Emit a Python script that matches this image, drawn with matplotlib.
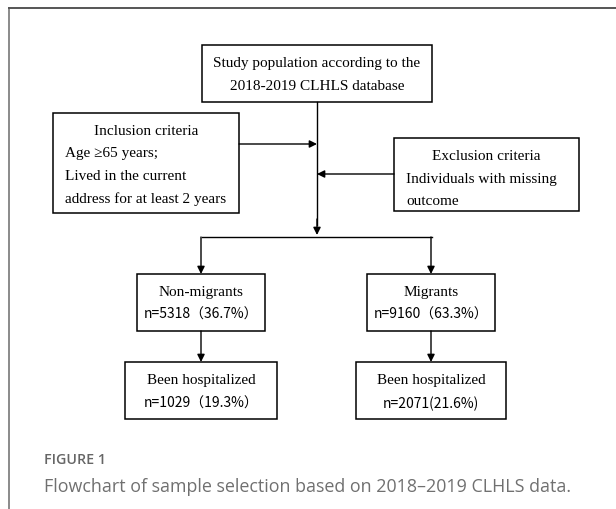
import matplotlib
matplotlib.use("Agg")
import matplotlib.pyplot as plt
from matplotlib.patches import Rectangle

# flowchart content
top_lines = ["Study population according to the", "2018-2019 CLHLS database"]
incl_title = "Inclusion criteria"
incl_lines = ["Age \u226565 years;", "Lived in the current", "address for at least 2 years"]
excl_title = "Exclusion criteria"
excl_lines = ["Individuals with missing", "outcome"]
groups = ["Non-migrants", "Migrants"]
group_n = [5318, 9160]
group_pct = [36.7, 63.3]
hosp_label = "Been hospitalized"
hosp_n = [1029, 2071]
hosp_pct = [19.3, 21.6]
# the source mixes full-width and ascii brackets
group_fmt = ["n={}\uff08{}%\uff09", "n={}\uff08{}%\uff09"]
hosp_fmt = ["n={}\uff08{}%\uff09", "n={}({}%)"]
fig_label = "FIGURE 1"
caption = "Flowchart of sample selection based on 2018\u20132019 CLHLS data."

W, H = 616, 510
fig = plt.figure(figsize=(W / 100, H / 100), dpi=100)
ax = fig.add_axes([0, 0, 1, 1])
ax.set_xlim(0, W)
ax.set_ylim(H, 0)
ax.axis("off")

serif = "Liberation Serif"
cjk = ["Noto Sans CJK SC", "DejaVu Sans"]
fs = 11
fs_n = 10
lw_box = 1.1
lw_line = 1.0

# outer frame (open on right / bottom)
ax.plot([9, 9], [9, H], color="#777777", lw=1.2)
ax.plot([9, W], [9, 9], color="#555555", lw=1.4)


def box(x0, y0, x1, y1):
    ax.add_patch(Rectangle((x0, y0), x1 - x0, y1 - y0, fill=False,
                           ec="black", lw=lw_box))


def arrow(x0, y0, x1, y1):
    ax.annotate("", xy=(x1, y1), xytext=(x0, y0),
                arrowprops=dict(arrowstyle="-|>", color="black", lw=lw_line,
                                mutation_scale=11, shrinkA=0, shrinkB=0))


# top box
box(202, 46, 432, 103)
for t, y in zip(top_lines, [63, 87]):
    ax.text(317, y, t, ha="center", va="center", fontsize=fs, family=serif)

# inclusion box
box(53, 114, 239, 214)
ax.text(146, 132, incl_title, ha="center", va="center", fontsize=fs, family=serif)
for t, y in zip(incl_lines, [154, 177, 199]):
    ax.text(65, y, t, ha="left", va="center", fontsize=fs, family=serif)

# exclusion box
box(394, 139, 579, 212)
ax.text(486, 157, excl_title, ha="center", va="center", fontsize=fs, family=serif)
for t, y in zip(excl_lines, [180, 202]):
    ax.text(406, y, t, ha="left", va="center", fontsize=fs, family=serif)

# stem + side arrows
ax.plot([317, 317], [103, 226], color="black", lw=lw_line)
arrow(317, 220, 317, 236)
arrow(239, 145, 317, 145)
arrow(394, 175, 317, 175)

# branch
ax.plot([202, 432], [238, 238], color="black", lw=lw_line)

cx = [201, 431]
gw = [64, 64]
hw = [76, 75]
for i in range(2):
    arrow(cx[i], 238, cx[i], 275)
    box(cx[i] - gw[i], 275, cx[i] + gw[i], 332)
    ax.text(cx[i], 293, groups[i], ha="center", va="center", fontsize=fs, family=serif)
    ax.text(cx[i], 315, group_fmt[i].format(group_n[i], group_pct[i]),
            ha="center", va="center", fontsize=fs_n, family=cjk)
    arrow(cx[i], 332, cx[i], 363)
    box(cx[i] - hw[i], 363, cx[i] + hw[i], 420)
    ax.text(cx[i], 381, hosp_label, ha="center", va="center", fontsize=fs, family=serif)
    ax.text(cx[i], 404, hosp_fmt[i].format(hosp_n[i], hosp_pct[i]),
            ha="center", va="center", fontsize=fs_n, family=cjk)

# caption
ax.text(44, 460, fig_label, ha="left", va="center", fontsize=10.3,
        family="Open Sans", weight="semibold", color="#666666")
ax.text(44, 487, caption, ha="left", va="center", fontsize=12.9,
        family="Open Sans", color="#707070")

fig.savefig("out.png", dpi=100)
